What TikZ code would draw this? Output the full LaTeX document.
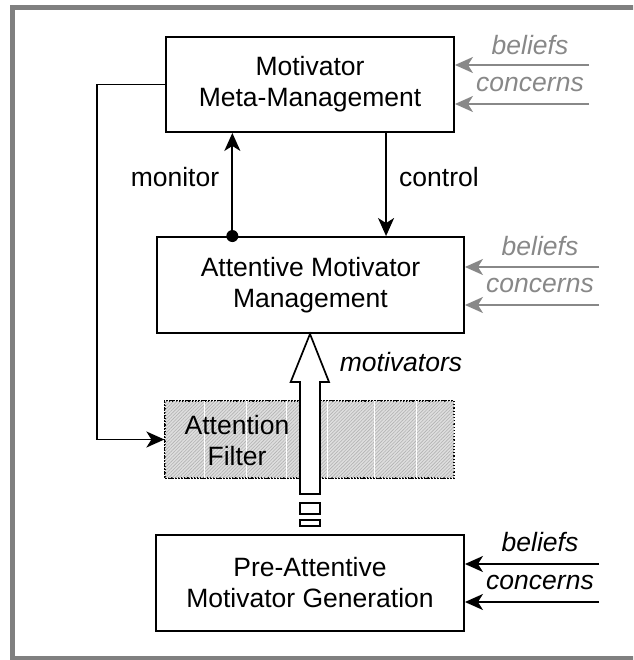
\documentclass[tikz,border=0pt]{standalone}
\usepackage{fontspec}
\setmainfont{Liberation Sans}
\usetikzlibrary{arrows.meta,calc,patterns.meta}
\definecolor{framegray}{RGB}{128,128,128}
\definecolor{inputgray}{RGB}{136,136,136}
\definecolor{filtergray}{RGB}{222,222,222}
\begin{document}
\begin{tikzpicture}[x=1pt,y=-1pt,
  every node/.style={font=\fontsize{26.5}{31}\selectfont},
  stagebox/.style={draw, line width=1.9pt, rectangle, align=center, inner sep=0pt},
  arr/.style={line width=1.8pt, -{Stealth[length=18pt,width=16pt,inset=5pt]}},
  inarr/.style={line width=1.8pt, -{Stealth[length=18pt,width=16pt,inset=5pt]}},
  grayin/.style={inarr, draw=inputgray},
  inlabel/.style={font=\fontsize{26.5}{31}\selectfont\itshape},
  grlabel/.style={inlabel, text=inputgray},
  lbl/.style={font=\fontsize{26.5}{31}\selectfont}]
\useasboundingbox (0,0) rectangle (633,660);
% outer frame (its right side lies past the picture's edge)
\begin{scope}
  \clip (0,0) rectangle (633,660);
  \draw[framegray, line width=5pt] (12.5,7.5) rectangle (650,658.5);
\end{scope}

% the three stages
\node[stagebox, minimum width=288pt, minimum height=95pt] (meta) at (310,84.5)
  {Motivator\\Meta-Management};
\node[stagebox, minimum width=307pt, minimum height=96pt] (att) at (310.5,285)
  {Attentive Motivator\\Management};
\node[stagebox, minimum width=308pt, minimum height=96pt] (pre) at (310,583)
  {Pre-Attentive\\Motivator Generation};

% attention filter band
\node[draw, dotted, line width=1.2pt, fill=filtergray,
      minimum width=289pt, minimum height=77pt, inner sep=0pt] (filter) at (309.5,439.5) {};
\fill[pattern={Lines[angle=45,distance=2.4pt,line width=0.6pt]}, pattern color=gray!60]
  ($(filter.north west)+(0.8,0.8)$) rectangle ($(filter.south east)+(-0.8,-0.8)$);
\foreach \dx in {40,82,122,163,210,252} {
  \draw[white, line width=0.8pt] ($(filter.north west)+(\dx,1)$) -- ($(filter.south west)+(\dx,-1)$);
}
\draw[dotted, line width=1.2pt] (filter.north west) rectangle (filter.south east);
\node[lbl, align=center] (filtertext) at (237,441) {Attention\\Filter};

% motivators passing through the filter
\coordinate (tip) at ($(att.south)+(-0.5,0)$);
\filldraw[fill=white, draw=black, line width=1.7pt, line join=miter]
  ($(tip)+(-10,160)$) -- ($(tip)+(-10,48)$) -- ($(tip)+(-19.3,48)$) -- (tip)
  -- ($(tip)+(19,48)$) -- ($(tip)+(10,48)$) -- ($(tip)+(10,160)$) -- cycle;
\draw[fill=white, line width=1.5pt] ($(tip)+(-10,169)$) rectangle ($(tip)+(10,180)$);
\draw[fill=white, line width=1.5pt] ($(tip)+(-10,186)$) rectangle ($(tip)+(10,192)$);
\node[inlabel] (motlabel) at (401,362) {motivators};

% monitor and control
\coordinate (mon) at ($(att.north west)+(76.3,0)$);
\coordinate (ctl) at ($(att.north west)+(230,0)$);
\draw[arr] (mon) -- (mon |- meta.south);
\fill (mon) circle (6pt);
\draw[arr] (ctl |- meta.south) -- (ctl);
\node[lbl] (monlabel) at (175,177) {monitor};
\node[lbl] (ctllabel) at (439,177) {control};

% meta-management sets the filter
\draw[arr] (meta.west) -- ++(-68,0) |- (filter.west);

% beliefs and concerns feeding each stage
\coordinate (mb) at (589,65);  \coordinate (mc) at (589,104);
\draw[grayin] (mb) -- (mb -| meta.east);
\draw[grayin] (mc) -- (mc -| meta.east);
\node[grlabel] (mbl) at (530,45) {beliefs};
\node[grlabel] (mcl) at (530,85) {concerns};

\coordinate (ab) at (599,267); \coordinate (ac) at (599,305);
\draw[grayin] (ab) -- (ab -| att.east);
\draw[grayin] (ac) -- (ac -| att.east);
\node[grlabel] (abl) at (540,246) {beliefs};
\node[grlabel] (acl) at (540,285) {concerns};

\coordinate (pb) at (599,564); \coordinate (pc) at (599,602);
\draw[inarr] (pb) -- (pb -| pre.east);
\draw[inarr] (pc) -- (pc -| pre.east);
\node[inlabel] (pbl) at (540,542) {beliefs};
\node[inlabel] (pcl) at (540,582) {concerns};
\end{tikzpicture}
\end{document}
